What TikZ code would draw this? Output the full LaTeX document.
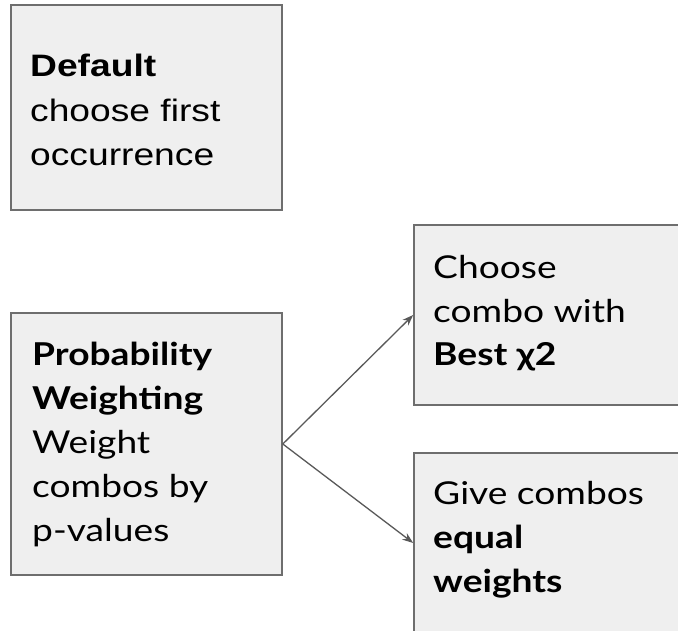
\documentclass[tikz,border=0pt]{standalone}
\usepackage{fontspec}
\setmainfont{Lato}[FakeStretch=1.18]
\newfontfamily\arialfont{Liberation Sans}[FakeStretch=1.2]
\usetikzlibrary{arrows.meta}
\definecolor{boxfill}{HTML}{EFEFEF}
\definecolor{boxline}{HTML}{6E6E6E}
\definecolor{arrowc}{HTML}{595959}
\begin{document}
\begin{tikzpicture}[x=1pt,y=-1pt,
  box/.style={draw=boxline, fill=boxfill, line width=1.6pt, inner sep=0pt, rectangle},
  txt/.style={anchor=base west, align=left, inner sep=0pt, font=\fontsize{31.5}{44}\selectfont},
  atxt/.style={anchor=base west, align=left, inner sep=0pt, font=\arialfont\fontsize{31}{44.5}\selectfont},
  conn/.style={draw=arrowc, line width=1.3pt, -{Stealth[length=11pt,width=8pt]}}]
\useasboundingbox (0,0) rectangle (678,631);
\clip (0,0) rectangle (678,631);
\node[box, minimum width=271pt, minimum height=205pt] (def) at (146.5,107.5) {};
\node[box, minimum width=271pt, minimum height=262pt] (prob) at (146.5,444) {};
\node[box, minimum width=280pt, minimum height=180pt] (choose) at (554,315) {};
\node[box, minimum width=280pt, minimum height=180pt] (give) at (554,543) {};
% anchors are at the baseline of the last line
\node[atxt] (deft) at (30,166) {\textbf{Default}\\choose first\\occurrence};
\node[txt] (probt) at (32,541) {\textbf{Probability}\\\textbf{Weighting}\\Weight\\combos by\\p-values};
\node[txt] (choset) at (433,366) {Choose\\combo with\\\textbf{Best χ2}};
\node[txt] (givet) at (433,592) {Give combos\\\textbf{equal}\\\textbf{weights}};
\draw[conn] (prob.east) -- (choose.west);
\draw[conn] (prob.east) -- (give.west);
\end{tikzpicture}
\end{document}
